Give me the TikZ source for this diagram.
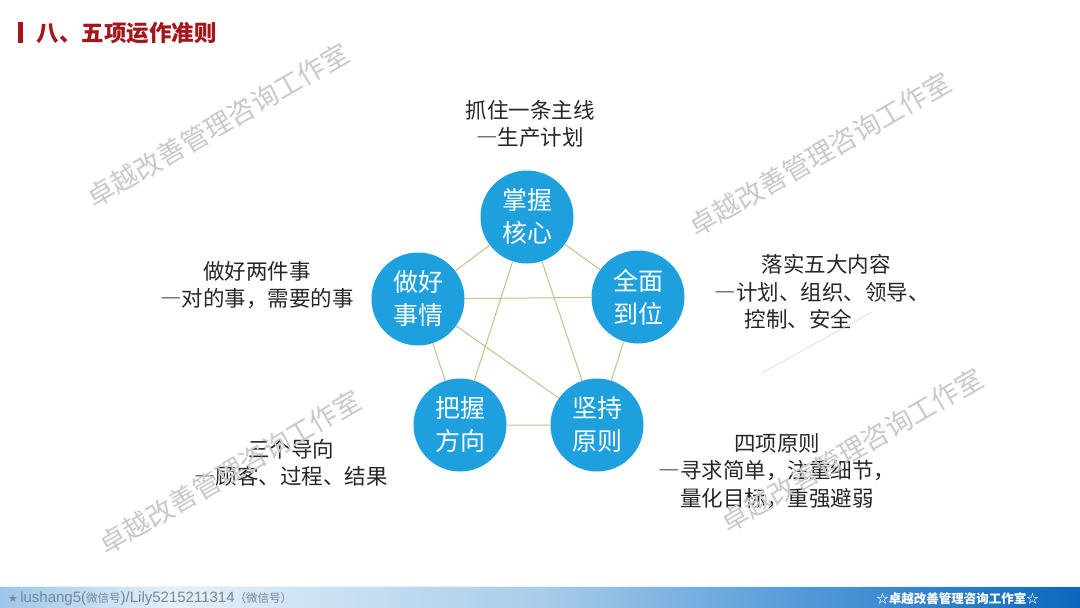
\documentclass[tikz,border=0pt]{standalone}
\usepackage{fontspec}
\setmainfont{Noto Sans CJK SC}
\newfontfamily\latin{Liberation Sans}
\newfontfamily\symb{DejaVu Sans}
\newcommand\fwdash{{\addfontfeatures{RawFeature=+fwid}—}}

\definecolor{ballblue}{RGB}{30,160,222}
\definecolor{linkline}{RGB}{200,192,140}
\definecolor{titlered}{RGB}{165,22,28}
\definecolor{barA}{RGB}{156,198,232}
\definecolor{barB}{RGB}{228,240,249}
\definecolor{barC}{RGB}{169,205,234}
\definecolor{barE}{RGB}{84,154,216}
\definecolor{barD}{RGB}{11,103,189}
\definecolor{contactgray}{RGB}{120,134,155}
\pgfdeclarehorizontalshading{barshade}{100bp}{color(0bp)=(barA); color(25bp)=(barA); color(33bp)=(barB); color(50bp)=(barC); color(62bp)=(barE); color(75bp)=(barD); color(100bp)=(barD)}

\tikzset{
  core/.style={circle,fill=ballblue,text=white,minimum size=93pt,inner sep=0pt,align=center,font=\fontsize{25}{33}\selectfont},
  note/.style={align=center,text=black!85,font=\fontsize{21.5}{27.5}\selectfont},
  link/.style={draw=linkline,line width=1pt},
  wmark/.style={rotate=30,text=gray!42,font=\fontsize{27}{27}\selectfont}
}

\begin{document}
\begin{tikzpicture}[x=1pt,y=-1pt]
\useasboundingbox[fill=white] (0,0) rectangle (1080,608);

% title
\fill[titlered] (18,22) rectangle (23,43);
\node[anchor=west,text=titlered,font=\fontsize{22.5}{22.5}\selectfont\bfseries] (title) at (33,33) {八、五项运作准则};

% five circles
\node[core] (grip) at (527,217) {掌握\\核心};
\node[core] (whole) at (638,297) {全面\\到位};
\node[core] (rule) at (597,425) {坚持\\原则};
\node[core] (aim) at (460,425) {把握\\方向};
\node[core] (task) at (418,299) {做好\\事情};

% links
\draw[link] (grip) -- (whole) -- (rule) -- (aim) -- (task) -- (grip);
\draw[link] (grip) -- (aim);
\draw[link] (grip) -- (rule);
\draw[link] (task) -- (whole);
\draw[link] (task) -- (rule);

% notes
\node[note] (gripnote) at (530,124) {抓住一条主线\\\fwdash 生产计划};
\node[note] (tasknote) at (257,285) {做好两件事\\\fwdash 对的事，需要的事};
\node[note,align=left,anchor=west] (wholenote) at (711,292) {\hspace{47pt}落实五大内容\\\fwdash 计划、组织、领导、\\\hspace{30pt}控制、安全};
\node[note] (aimnote) at (291,463) {三个导向\\\fwdash 顾客、过程、结果};
\node[note] (rulenote) at (777,471) {四项原则\\\fwdash 寻求简单，注重细节，\\量化目标，重强避弱};
\draw[gray!30,line width=0.6pt] (762,373) -- (872,312);

% bottom bar
\shade[shading=barshade] (0,586) rectangle (1080,608);
\draw[white!80!barA,line width=1pt] (0,586) -- (1080,586);
\node[anchor=west,text=contactgray,inner sep=0pt] (contact) at (8,599) {{\symb\fontsize{11}{12}\selectfont ★} {\latin\fontsize{15}{15}\selectfont lushang5(}{\fontsize{11.5}{12}\selectfont 微信号}{\latin\fontsize{15}{15}\selectfont )/Lily5215211314}{\fontsize{11.5}{12}\selectfont （微信号）}};
\node[anchor=east,text=white,inner sep=0pt,font=\fontsize{12.5}{13}\selectfont\bfseries] (studio) at (1039,599) {☆卓越改善管理咨询工作室☆};

% watermarks
\foreach \wx/\wy [count=\i] in {218/125, 820/154, 230/472, 852/450}
  \node[wmark] (wm\i) at (\wx,\wy) {卓越改善管理咨询工作室};
\end{tikzpicture}
\end{document}
